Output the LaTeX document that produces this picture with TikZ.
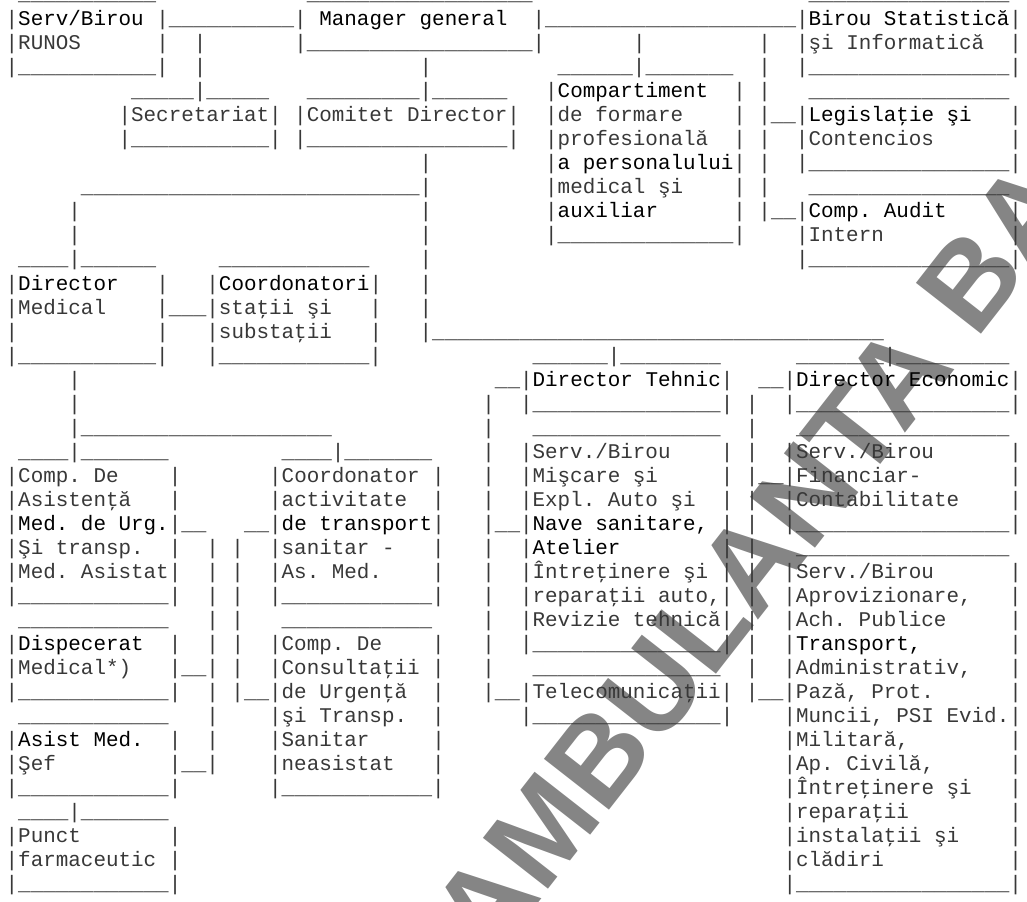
\documentclass[tikz,border=0pt]{standalone}
\usepackage{fontspec}
\setmainfont{Liberation Mono}
\newfontfamily\wmfont{Liberation Sans}
\frenchspacing
\newcommand\spc[1]{\hspace*{#1\fontcharwd\font`\_}}
\newcommand\und[1]{\foreach\k in {1,...,#1}{\_}}
\newcommand\hv[1]{{\color{black}#1}}
\tikzset{
  asciirow/.style={anchor=base west, inner sep=0pt, outer sep=0pt,
    text=black!78, font=\fontsize{15.68pt}{18pt}\selectfont},
  watermark/.style={anchor=base west, inner sep=0pt, outer sep=0pt,
    text=black!48, font=\wmfont\bfseries\fontsize{90pt}{90pt}\selectfont}
}

\begin{document}
\begin{tikzpicture}[x=0.75pt,y=-0.75pt]
  \useasboundingbox (0,0) rectangle (1027,902);
  % watermark under the chart
  \node[watermark, rotate=52] (wm) at (490,964) {AMBULANTA BA};
  % chart, one node per text line
  \node[asciirow] (row0) at (5.7,0.5) {\spc{1}\und{11}\spc{12}\und{18}\spc{22}\und{16}};
  \node[asciirow] (row1) at (5.7,26) {|\hv{Serv/Birou}\spc{1}|\und{10}|\spc{1}\hv{Manager general}\spc{2}|\und{20}|\hv{Birou Statistică}|};
  \node[asciirow] (row2) at (5.7,50) {|RUNOS\spc{6}|\spc{2}|\spc{7}|\und{18}|\spc{7}|\spc{9}|\spc{2}|şi Informatică\spc{2}|};
  \node[asciirow] (row3) at (5.7,74) {|\und{11}|\spc{2}|\spc{17}|\spc{10}\und{6}|\und{7}\spc{2}|\spc{2}|\und{16}|};
  \node[asciirow] (row4) at (5.7,98) {\spc{10}\und{5}|\und{5}\spc{3}\und{9}|\und{6}\spc{3}|\hv{Compartiment}\spc{2}|\spc{1}|\spc{3}\und{16}};
  \node[asciirow] (row5) at (5.7,122) {\spc{9}|Secretariat|\spc{1}|Comitet Director|\spc{2}|de formare\spc{4}|\spc{1}|\und{2}|\hv{Legislaţie şi}\spc{3}|};
  \node[asciirow] (row6) at (5.7,146) {\spc{9}|\und{11}|\spc{1}|\und{16}|\spc{2}|profesională\spc{2}|\spc{1}|\spc{2}|Contencios\spc{6}|};
  \node[asciirow] (row7) at (5.7,170) {\spc{33}|\spc{9}|\hv{a personalului}|\spc{1}|\spc{2}|\und{16}|};
  \node[asciirow] (row8) at (5.7,194) {\spc{6}\und{27}|\spc{9}|medical şi\spc{4}|\spc{1}|\spc{3}\und{16}};
  \node[asciirow] (row9) at (5.7,218) {\spc{5}|\spc{27}|\spc{9}|\hv{auxiliar}\spc{6}|\spc{1}|\und{2}|\hv{Comp. Audit}\spc{5}|};
  \node[asciirow] (row10) at (5.7,242) {\spc{5}|\spc{27}|\spc{9}|\und{14}|\spc{4}|Intern\spc{10}|};
  \node[asciirow] (row11) at (5.7,266) {\spc{1}\und{4}|\und{6}\spc{5}\und{12}\spc{4}|\spc{29}|\und{16}|};
  \node[asciirow] (row12) at (5.7,290) {|\hv{Director}\spc{3}|\spc{3}|\hv{Coordonatori}|\spc{3}|};
  \node[asciirow] (row13) at (5.7,314) {|Medical\spc{4}|\und{3}|staţii şi\spc{3}|\spc{3}|};
  \node[asciirow] (row14) at (5.7,338) {|\spc{11}|\spc{3}|substaţii\spc{3}|\spc{3}|\und{36}};
  \node[asciirow] (row15) at (5.7,362) {|\und{11}|\spc{3}|\und{12}|\spc{12}\und{6}|\und{8}\spc{6}\und{7}|\und{9}};
  \node[asciirow] (row16) at (5.7,386) {\spc{5}|\spc{33}\und{2}|\hv{Director Tehnic}|\spc{2}\und{2}|\hv{Director Economic}|};
  \node[asciirow] (row17) at (5.7,410) {\spc{5}|\spc{32}|\spc{2}|\und{15}|\spc{1}|\spc{2}|\und{17}|};
  \node[asciirow] (row18) at (5.7,434) {\spc{5}|\und{20}\spc{12}|\spc{3}\und{15}\spc{2}|\spc{3}\und{17}};
  \node[asciirow] (row19) at (5.7,458) {\spc{1}\und{4}|\und{7}\spc{9}\und{4}|\und{7}\spc{4}|\spc{2}|Serv./Birou\spc{4}|\spc{1}|\spc{2}|Serv./Birou\spc{6}|};
  \node[asciirow] (row20) at (5.7,482) {|Comp. De\spc{4}|\spc{7}|Coordonator\spc{1}|\spc{3}|\spc{2}|Mişcare şi\spc{5}|\spc{1}|\und{2}|Financiar-\spc{7}|};
  \node[asciirow] (row21) at (5.7,506) {|Asistenţă\spc{3}|\spc{7}|activitate\spc{2}|\spc{3}|\spc{2}|Expl. Auto şi\spc{2}|\spc{1}|\spc{2}|Contabilitate\spc{4}|};
  \node[asciirow] (row22) at (5.7,530) {|\hv{Med. de Urg.}|\und{2}\spc{3}\und{2}|\hv{de transport}|\spc{3}|\und{2}|\hv{Nave sanitare,}\spc{1}|\spc{1}|\spc{2}|\und{17}|};
  \node[asciirow] (row23) at (5.7,554) {|Şi transp.\spc{2}|\spc{2}|\spc{1}|\spc{2}|sanitar -\spc{3}|\spc{3}|\spc{2}|\hv{Atelier}\spc{8}|\spc{1}|\spc{3}\und{17}};
  \node[asciirow] (row24) at (5.7,578) {|Med. Asistat|\spc{2}|\spc{1}|\spc{2}|As. Med.\spc{4}|\spc{3}|\spc{2}|Întreţinere şi\spc{1}|\spc{1}|\spc{2}|Serv./Birou\spc{6}|};
  \node[asciirow] (row25) at (5.7,602) {|\und{12}|\spc{2}|\spc{1}|\spc{2}|\und{12}|\spc{3}|\spc{2}|reparaţii auto,|\spc{1}|\spc{2}|Aprovizionare,\spc{3}|};
  \node[asciirow] (row26) at (5.7,626) {\spc{1}\und{12}\spc{3}|\spc{1}|\spc{3}\und{12}\spc{4}|\spc{2}|Revizie tehnică|\spc{1}|\spc{2}|Ach. Publice\spc{5}|};
  \node[asciirow] (row27) at (5.7,650) {|\hv{Dispecerat}\spc{2}|\spc{2}|\spc{1}|\spc{2}|Comp. De\spc{4}|\spc{3}|\spc{2}|\und{15}|\spc{1}|\spc{2}|\hv{Transport,}\spc{7}|};
  \node[asciirow] (row28) at (5.7,674) {|Medical*)\spc{3}|\und{2}|\spc{1}|\spc{2}|Consultaţii\spc{1}|\spc{3}|\spc{3}\und{15}\spc{2}|\spc{2}|Administrativ,\spc{3}|};
  \node[asciirow] (row29) at (5.7,698) {|\und{12}|\spc{2}|\spc{1}|\und{2}|de Urgenţă\spc{2}|\spc{3}|\und{2}|Telecomunicaţii|\spc{1}|\und{2}|Pază, Prot.\spc{6}|};
  \node[asciirow] (row30) at (5.7,722) {\spc{1}\und{12}\spc{3}|\spc{4}|şi Transp.\spc{2}|\spc{6}|\und{15}|\spc{4}|Muncii, PSI Evid.|};
  \node[asciirow] (row31) at (5.7,746) {|\hv{Asist Med.}\spc{2}|\spc{2}|\spc{4}|Sanitar\spc{5}|\spc{27}|Militară,\spc{8}|};
  \node[asciirow] (row32) at (5.7,770) {|Şef\spc{9}|\und{2}|\spc{4}|neasistat\spc{3}|\spc{27}|Ap. Civilă,\spc{6}|};
  \node[asciirow] (row33) at (5.7,794) {|\und{12}|\spc{7}|\und{12}|\spc{27}|Întreţinere şi\spc{3}|};
  \node[asciirow] (row34) at (5.7,818) {\spc{1}\und{4}|\und{7}\spc{49}|reparaţii\spc{8}|};
  \node[asciirow] (row35) at (5.7,842) {|Punct\spc{7}|\spc{48}|instalaţii şi\spc{4}|};
  \node[asciirow] (row36) at (5.7,866) {|farmaceutic\spc{1}|\spc{48}|clădiri\spc{10}|};
  \node[asciirow] (row37) at (5.7,890) {|\und{12}|\spc{48}|\und{17}|};
\end{tikzpicture}
\end{document}
